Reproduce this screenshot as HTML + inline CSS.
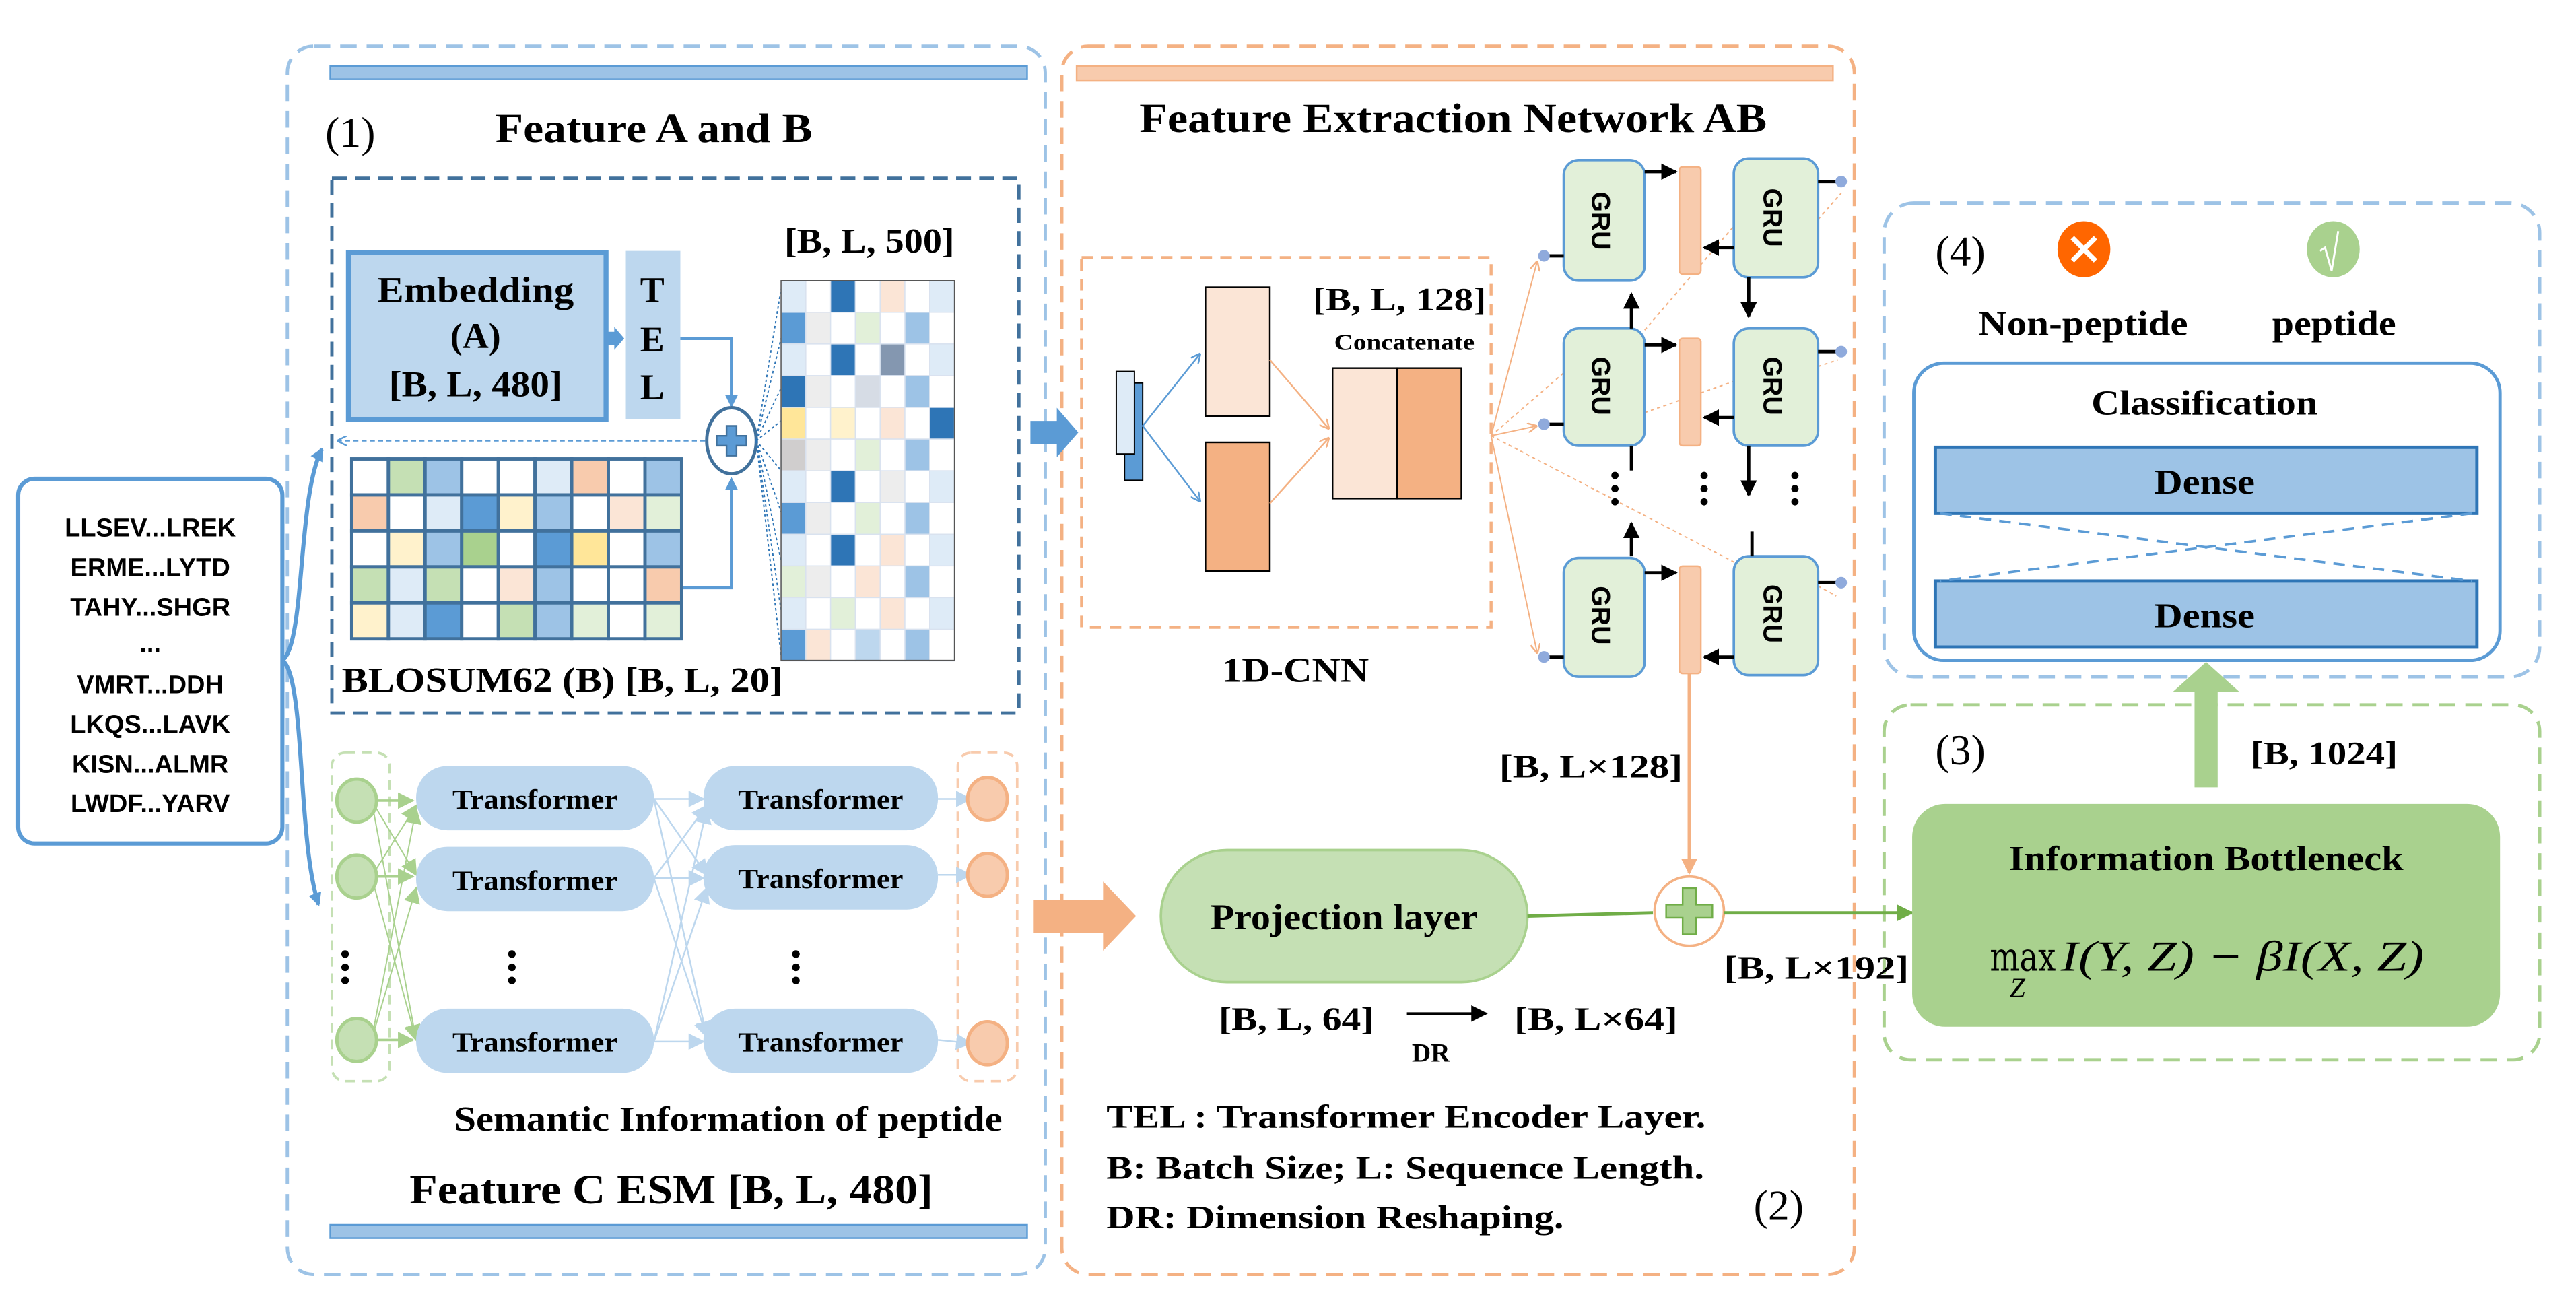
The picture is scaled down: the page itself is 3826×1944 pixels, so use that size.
<!DOCTYPE html>
<html><head><meta charset="utf-8"><style>
html,body{margin:0;padding:0;background:#fff;}
svg{display:block;}
text{font-family:"Liberation Serif",serif;font-weight:bold;fill:#000;}
.s{font-family:"Liberation Sans",sans-serif;}
.n{font-weight:normal;}
</style></head><body>
<svg width="3826" height="1944" viewBox="0 0 1560 793" preserveAspectRatio="none" xmlns="http://www.w3.org/2000/svg">
<defs>
<marker id="ab" markerWidth="8" markerHeight="8" refX="7" refY="4" orient="auto" markerUnits="userSpaceOnUse"><path d="M0,0 L8,4 L0,8z" fill="#5b9bd5"/></marker>
<marker id="abs" markerWidth="6" markerHeight="6" refX="6" refY="3" orient="auto" markerUnits="userSpaceOnUse"><path d="M0,0 L6,3 L0,6" fill="none" stroke="#5b9bd5" stroke-width="1"/></marker>
<marker id="ao" markerWidth="6" markerHeight="6" refX="6" refY="3" orient="auto" markerUnits="userSpaceOnUse"><path d="M0,0 L6,3 L0,6" fill="none" stroke="#f4b183" stroke-width="1"/></marker>
<marker id="aO" markerWidth="10" markerHeight="10" refX="9" refY="5" orient="auto" markerUnits="userSpaceOnUse"><path d="M0,0 L10,5 L0,10z" fill="#f4b183"/></marker>
<marker id="ak" markerWidth="10" markerHeight="10" refX="9" refY="5" orient="auto" markerUnits="userSpaceOnUse"><path d="M0,0 L10,5 L0,10z" fill="#000"/></marker>
<marker id="ag" markerWidth="10" markerHeight="10" refX="9" refY="5" orient="auto" markerUnits="userSpaceOnUse"><path d="M0,0 L10,5 L0,10z" fill="#70ad47"/></marker>
<marker id="agl" markerWidth="10" markerHeight="10" refX="9" refY="5" orient="auto" markerUnits="userSpaceOnUse"><path d="M0,0 L10,5 L0,10z" fill="#a9d18e"/></marker>
<marker id="abl" markerWidth="10" markerHeight="10" refX="9" refY="5" orient="auto" markerUnits="userSpaceOnUse"><path d="M0,0 L10,5 L0,10z" fill="#bdd7ee"/></marker>
<marker id="aor" markerWidth="10" markerHeight="10" refX="9" refY="5" orient="auto" markerUnits="userSpaceOnUse"><path d="M0,0 L10,5 L0,10z" fill="#f8cbad"/></marker>
</defs>

<!-- outer boxes -->
<rect x="174" y="28" width="459" height="744" rx="16" fill="none" stroke="#9dc3e6" stroke-width="2" stroke-dasharray="10,6"/>
<rect x="200" y="40" width="422" height="8" fill="#9dc3e6" stroke="#5b9bd5" stroke-width="1"/>
<rect x="200" y="742" width="422" height="8" fill="#9dc3e6" stroke="#5b9bd5" stroke-width="1"/>
<rect x="643" y="28" width="480" height="744" rx="16" fill="none" stroke="#f4b183" stroke-width="2" stroke-dasharray="10,6"/>
<rect x="652" y="40" width="458" height="9" fill="#f8cbad" stroke="#f4b183" stroke-width="1"/>
<rect x="1141" y="123" width="397" height="287" rx="18" fill="none" stroke="#9dc3e6" stroke-width="2" stroke-dasharray="10,6"/>
<rect x="1141" y="427" width="397" height="215" rx="16" fill="none" stroke="#a9d18e" stroke-width="2" stroke-dasharray="10,6"/>

<!-- input -->
<rect x="11" y="290" width="160" height="221" rx="10" fill="#fff" stroke="#5b9bd5" stroke-width="2.5"/>
<g class="s" font-size="15.5" text-anchor="middle">
<text class="s" x="91" y="325">LLSEV...LREK</text>
<text class="s" x="91" y="349">ERME...LYTD</text>
<text class="s" x="91" y="373">TAHY...SHGR</text>
<text class="s" x="91" y="395">...</text>
<text class="s" x="91" y="420">VMRT...DDH</text>
<text class="s" x="91" y="444">LKQS...LAVK</text>
<text class="s" x="91" y="468">KISN...ALMR</text>
<text class="s" x="91" y="492">LWDF...YARV</text>
</g>
<path d="M171,400 C185,390 180,300 195,272" fill="none" stroke="#5b9bd5" stroke-width="2.5" marker-end="url(#ab)"/>
<path d="M171,400 C185,410 180,510 193,548" fill="none" stroke="#5b9bd5" stroke-width="2.5" marker-end="url(#ab)"/>

<!-- Feature A and B -->
<text class="n" x="197" y="89" font-size="26">(1)</text>
<text x="300" y="86" font-size="25" textLength="192" lengthAdjust="spacingAndGlyphs">Feature A and B</text>
<rect x="201" y="108" width="416" height="324" fill="none" stroke="#41719c" stroke-width="2" stroke-dasharray="9,5"/>
<rect x="211" y="153" width="156" height="101" fill="#bdd7ee" stroke="#5b9bd5" stroke-width="3"/>
<text x="288" y="183" font-size="22" text-anchor="middle" textLength="119" lengthAdjust="spacingAndGlyphs">Embedding</text>
<text x="288" y="211" font-size="22" text-anchor="middle">(A)</text>
<text x="288" y="240" font-size="22" text-anchor="middle" textLength="105" lengthAdjust="spacingAndGlyphs">[B, L, 480]</text>
<rect x="379" y="152" width="33" height="102" fill="#bdd7ee"/>
<text x="395" y="183" font-size="22" text-anchor="middle">T</text>
<text x="395" y="213" font-size="22" text-anchor="middle">E</text>
<text x="395" y="242" font-size="22" text-anchor="middle">L</text>
<path d="M367,201 h5 v-3 l6,7 l-6,7 v-3 h-5z" fill="#5b9bd5"/>
<path d="M412,205 H443 V246" fill="none" stroke="#5b9bd5" stroke-width="2" marker-end="url(#ab)"/>
<path d="M413,356 H443 V290" fill="none" stroke="#5b9bd5" stroke-width="2" marker-end="url(#ab)"/>
<line x1="427" y1="267" x2="204" y2="267" stroke="#5b9bd5" stroke-width="1" stroke-dasharray="3,2" marker-end="url(#abs)"/>
<ellipse cx="443" cy="267" rx="15" ry="20" fill="#fff" stroke="#41719c" stroke-width="2"/>
<path d="M440,258 h6 v6 h6 v6 h-6 v6 h-6 v-6 h-6 v-6 h6z" fill="#5b9bd5" stroke="#41719c" stroke-width="1"/>
<!-- dotted fan -->
<g stroke="#2e75b6" stroke-width="0.8" stroke-dasharray="1.5,1.5">
<line x1="458" y1="267" x2="473" y2="175"/><line x1="458" y1="267" x2="473" y2="205"/><line x1="458" y1="267" x2="473" y2="235"/><line x1="458" y1="267" x2="473" y2="255"/><line x1="458" y1="267" x2="473" y2="285"/><line x1="458" y1="267" x2="473" y2="310"/><line x1="458" y1="267" x2="473" y2="340"/><line x1="458" y1="267" x2="473" y2="370"/><line x1="458" y1="267" x2="473" y2="397"/>
</g>
<text x="475" y="153" font-size="21" textLength="103" lengthAdjust="spacingAndGlyphs">[B, L, 500]</text>
<!-- matrix 7x12 -->
<g stroke="#d9e2ef" stroke-width="0.6">
<rect x="473" y="170" width="15" height="19.2" fill="#deebf7"/><rect x="488" y="170" width="15" height="19.2" fill="#fff"/><rect x="503" y="170" width="15" height="19.2" fill="#2e75b6"/><rect x="518" y="170" width="15" height="19.2" fill="#fff"/><rect x="533" y="170" width="15" height="19.2" fill="#fbe5d6"/><rect x="548" y="170" width="15" height="19.2" fill="#fff"/><rect x="563" y="170" width="15" height="19.2" fill="#deebf7"/>
<rect x="473" y="189.2" width="15" height="19.2" fill="#5b9bd5"/><rect x="488" y="189.2" width="15" height="19.2" fill="#ededed"/><rect x="503" y="189.2" width="15" height="19.2" fill="#fff"/><rect x="518" y="189.2" width="15" height="19.2" fill="#e2f0d9"/><rect x="533" y="189.2" width="15" height="19.2" fill="#fff"/><rect x="548" y="189.2" width="15" height="19.2" fill="#9dc3e6"/><rect x="563" y="189.2" width="15" height="19.2" fill="#fff"/>
<rect x="473" y="208.4" width="15" height="19.2" fill="#deebf7"/><rect x="488" y="208.4" width="15" height="19.2" fill="#fff"/><rect x="503" y="208.4" width="15" height="19.2" fill="#2e75b6"/><rect x="518" y="208.4" width="15" height="19.2" fill="#fff"/><rect x="533" y="208.4" width="15" height="19.2" fill="#8497b0"/><rect x="548" y="208.4" width="15" height="19.2" fill="#fff"/><rect x="563" y="208.4" width="15" height="19.2" fill="#deebf7"/>
<rect x="473" y="227.6" width="15" height="19.2" fill="#2e75b6"/><rect x="488" y="227.6" width="15" height="19.2" fill="#ededed"/><rect x="503" y="227.6" width="15" height="19.2" fill="#fff"/><rect x="518" y="227.6" width="15" height="19.2" fill="#d6dce5"/><rect x="533" y="227.6" width="15" height="19.2" fill="#fff"/><rect x="548" y="227.6" width="15" height="19.2" fill="#9dc3e6"/><rect x="563" y="227.6" width="15" height="19.2" fill="#fff"/>
<rect x="473" y="246.8" width="15" height="19.2" fill="#ffe699"/><rect x="488" y="246.8" width="15" height="19.2" fill="#fff"/><rect x="503" y="246.8" width="15" height="19.2" fill="#fff2cc"/><rect x="518" y="246.8" width="15" height="19.2" fill="#fff"/><rect x="533" y="246.8" width="15" height="19.2" fill="#fbe5d6"/><rect x="548" y="246.8" width="15" height="19.2" fill="#fff"/><rect x="563" y="246.8" width="15" height="19.2" fill="#2e75b6"/>
<rect x="473" y="266" width="15" height="19.2" fill="#d0cece"/><rect x="488" y="266" width="15" height="19.2" fill="#ededed"/><rect x="503" y="266" width="15" height="19.2" fill="#fff"/><rect x="518" y="266" width="15" height="19.2" fill="#e2f0d9"/><rect x="533" y="266" width="15" height="19.2" fill="#fff"/><rect x="548" y="266" width="15" height="19.2" fill="#9dc3e6"/><rect x="563" y="266" width="15" height="19.2" fill="#fff"/>
<rect x="473" y="285.2" width="15" height="19.2" fill="#deebf7"/><rect x="488" y="285.2" width="15" height="19.2" fill="#fff"/><rect x="503" y="285.2" width="15" height="19.2" fill="#2e75b6"/><rect x="518" y="285.2" width="15" height="19.2" fill="#fff"/><rect x="533" y="285.2" width="15" height="19.2" fill="#ededed"/><rect x="548" y="285.2" width="15" height="19.2" fill="#fff"/><rect x="563" y="285.2" width="15" height="19.2" fill="#deebf7"/>
<rect x="473" y="304.4" width="15" height="19.2" fill="#5b9bd5"/><rect x="488" y="304.4" width="15" height="19.2" fill="#ededed"/><rect x="503" y="304.4" width="15" height="19.2" fill="#fff"/><rect x="518" y="304.4" width="15" height="19.2" fill="#e2f0d9"/><rect x="533" y="304.4" width="15" height="19.2" fill="#fff"/><rect x="548" y="304.4" width="15" height="19.2" fill="#9dc3e6"/><rect x="563" y="304.4" width="15" height="19.2" fill="#fff"/>
<rect x="473" y="323.6" width="15" height="19.2" fill="#deebf7"/><rect x="488" y="323.6" width="15" height="19.2" fill="#fff"/><rect x="503" y="323.6" width="15" height="19.2" fill="#2e75b6"/><rect x="518" y="323.6" width="15" height="19.2" fill="#fff"/><rect x="533" y="323.6" width="15" height="19.2" fill="#fbe5d6"/><rect x="548" y="323.6" width="15" height="19.2" fill="#fff"/><rect x="563" y="323.6" width="15" height="19.2" fill="#deebf7"/>
<rect x="473" y="342.8" width="15" height="19.2" fill="#e2f0d9"/><rect x="488" y="342.8" width="15" height="19.2" fill="#ededed"/><rect x="503" y="342.8" width="15" height="19.2" fill="#fff"/><rect x="518" y="342.8" width="15" height="19.2" fill="#fbe5d6"/><rect x="533" y="342.8" width="15" height="19.2" fill="#fff"/><rect x="548" y="342.8" width="15" height="19.2" fill="#9dc3e6"/><rect x="563" y="342.8" width="15" height="19.2" fill="#fff"/>
<rect x="473" y="362" width="15" height="19.2" fill="#deebf7"/><rect x="488" y="362" width="15" height="19.2" fill="#fff"/><rect x="503" y="362" width="15" height="19.2" fill="#e2f0d9"/><rect x="518" y="362" width="15" height="19.2" fill="#fff"/><rect x="533" y="362" width="15" height="19.2" fill="#fbe5d6"/><rect x="548" y="362" width="15" height="19.2" fill="#fff"/><rect x="563" y="362" width="15" height="19.2" fill="#deebf7"/>
<rect x="473" y="381.2" width="15" height="19.2" fill="#5b9bd5"/><rect x="488" y="381.2" width="15" height="19.2" fill="#fbe5d6"/><rect x="503" y="381.2" width="15" height="19.2" fill="#fff"/><rect x="518" y="381.2" width="15" height="19.2" fill="#bdd7ee"/><rect x="533" y="381.2" width="15" height="19.2" fill="#fff"/><rect x="548" y="381.2" width="15" height="19.2" fill="#9dc3e6"/><rect x="563" y="381.2" width="15" height="19.2" fill="#fff"/>
</g>
<rect x="473" y="170" width="105" height="230" fill="none" stroke="#555" stroke-width="0.6"/>
<!-- BLOSUM grid 9x5 -->
<g stroke="#41719c" stroke-width="2">
<rect x="213" y="278" width="22.2" height="21.8" fill="#fff"/><rect x="235.2" y="278" width="22.2" height="21.8" fill="#c5e0b4"/><rect x="257.4" y="278" width="22.2" height="21.8" fill="#9dc3e6"/><rect x="279.6" y="278" width="22.2" height="21.8" fill="#fff"/><rect x="301.8" y="278" width="22.2" height="21.8" fill="#fff"/><rect x="324" y="278" width="22.2" height="21.8" fill="#deebf7"/><rect x="346.2" y="278" width="22.2" height="21.8" fill="#f8cbad"/><rect x="368.4" y="278" width="22.2" height="21.8" fill="#fff"/><rect x="390.6" y="278" width="22.2" height="21.8" fill="#9dc3e6"/>
<rect x="213" y="299.8" width="22.2" height="21.8" fill="#f8cbad"/><rect x="235.2" y="299.8" width="22.2" height="21.8" fill="#fff"/><rect x="257.4" y="299.8" width="22.2" height="21.8" fill="#deebf7"/><rect x="279.6" y="299.8" width="22.2" height="21.8" fill="#5b9bd5"/><rect x="301.8" y="299.8" width="22.2" height="21.8" fill="#fff2cc"/><rect x="324" y="299.8" width="22.2" height="21.8" fill="#9dc3e6"/><rect x="346.2" y="299.8" width="22.2" height="21.8" fill="#fff"/><rect x="368.4" y="299.8" width="22.2" height="21.8" fill="#fbe5d6"/><rect x="390.6" y="299.8" width="22.2" height="21.8" fill="#e2f0d9"/>
<rect x="213" y="321.6" width="22.2" height="21.8" fill="#fff"/><rect x="235.2" y="321.6" width="22.2" height="21.8" fill="#fff2cc"/><rect x="257.4" y="321.6" width="22.2" height="21.8" fill="#9dc3e6"/><rect x="279.6" y="321.6" width="22.2" height="21.8" fill="#a9d18e"/><rect x="301.8" y="321.6" width="22.2" height="21.8" fill="#fff"/><rect x="324" y="321.6" width="22.2" height="21.8" fill="#5b9bd5"/><rect x="346.2" y="321.6" width="22.2" height="21.8" fill="#ffe699"/><rect x="368.4" y="321.6" width="22.2" height="21.8" fill="#fff"/><rect x="390.6" y="321.6" width="22.2" height="21.8" fill="#9dc3e6"/>
<rect x="213" y="343.4" width="22.2" height="21.8" fill="#c5e0b4"/><rect x="235.2" y="343.4" width="22.2" height="21.8" fill="#deebf7"/><rect x="257.4" y="343.4" width="22.2" height="21.8" fill="#c5e0b4"/><rect x="279.6" y="343.4" width="22.2" height="21.8" fill="#fff"/><rect x="301.8" y="343.4" width="22.2" height="21.8" fill="#fbe5d6"/><rect x="324" y="343.4" width="22.2" height="21.8" fill="#9dc3e6"/><rect x="346.2" y="343.4" width="22.2" height="21.8" fill="#fff"/><rect x="368.4" y="343.4" width="22.2" height="21.8" fill="#fff"/><rect x="390.6" y="343.4" width="22.2" height="21.8" fill="#f8cbad"/>
<rect x="213" y="365.2" width="22.2" height="21.8" fill="#fff2cc"/><rect x="235.2" y="365.2" width="22.2" height="21.8" fill="#deebf7"/><rect x="257.4" y="365.2" width="22.2" height="21.8" fill="#5b9bd5"/><rect x="279.6" y="365.2" width="22.2" height="21.8" fill="#fff"/><rect x="301.8" y="365.2" width="22.2" height="21.8" fill="#c5e0b4"/><rect x="324" y="365.2" width="22.2" height="21.8" fill="#9dc3e6"/><rect x="346.2" y="365.2" width="22.2" height="21.8" fill="#e2f0d9"/><rect x="368.4" y="365.2" width="22.2" height="21.8" fill="#fff"/><rect x="390.6" y="365.2" width="22.2" height="21.8" fill="#e2f0d9"/>
</g>
<text x="207" y="419" font-size="21" textLength="267" lengthAdjust="spacingAndGlyphs">BLOSUM62 (B) [B, L, 20]</text>

<!-- Transformers -->
<rect x="201" y="456" width="35" height="199" rx="8" fill="none" stroke="#c5e0b4" stroke-width="1.5" stroke-dasharray="6,4"/>
<rect x="580" y="456" width="36" height="199" rx="8" fill="none" stroke="#f8cbad" stroke-width="1.5" stroke-dasharray="6,4"/>
<g stroke="#a9d18e" stroke-width="0.8" fill="none">
<line x1="225" y1="485" x2="252" y2="530" marker-end="url(#agl)"/><line x1="225" y1="485" x2="252" y2="630" marker-end="url(#agl)"/>
<line x1="225" y1="531" x2="252" y2="488" marker-end="url(#agl)"/><line x1="225" y1="531" x2="252" y2="630" marker-end="url(#agl)"/>
<line x1="225" y1="630" x2="252" y2="490" marker-end="url(#agl)"/><line x1="225" y1="630" x2="252" y2="538" marker-end="url(#agl)"/>
</g>
<g stroke="#a9d18e" stroke-width="1.5">
<line x1="225" y1="485" x2="250" y2="485" marker-end="url(#agl)"/><line x1="225" y1="531" x2="250" y2="531" marker-end="url(#agl)"/><line x1="225" y1="630" x2="250" y2="630" marker-end="url(#agl)"/>
</g>
<g stroke="#bdd7ee" stroke-width="1" fill="none">
<line x1="396" y1="484" x2="426" y2="484" marker-end="url(#abl)"/><line x1="396" y1="532" x2="426" y2="532" marker-end="url(#abl)"/><line x1="396" y1="631" x2="426" y2="631" marker-end="url(#abl)"/>
<line x1="396" y1="484" x2="428" y2="530" marker-end="url(#abl)"/><line x1="396" y1="484" x2="428" y2="628" marker-end="url(#abl)"/>
<line x1="396" y1="532" x2="428" y2="488" marker-end="url(#abl)"/><line x1="396" y1="532" x2="428" y2="628" marker-end="url(#abl)"/>
<line x1="396" y1="631" x2="428" y2="490" marker-end="url(#abl)"/><line x1="396" y1="631" x2="428" y2="538" marker-end="url(#abl)"/>
<line x1="568" y1="484" x2="588" y2="484" marker-end="url(#abl)"/><line x1="568" y1="530" x2="588" y2="530" marker-end="url(#abl)"/><line x1="568" y1="630" x2="588" y2="632" marker-end="url(#abl)"/>
</g>
<g fill="#c5e0b4" stroke="#a9d18e" stroke-width="2">
<ellipse cx="216" cy="485" rx="12" ry="13"/><ellipse cx="216" cy="531" rx="12" ry="13"/><ellipse cx="216" cy="630" rx="12" ry="13"/>
</g>
<g fill="#f8cbad" stroke="#f4b183" stroke-width="2">
<ellipse cx="598" cy="484" rx="12" ry="13"/><ellipse cx="598" cy="530" rx="12" ry="13"/><ellipse cx="598" cy="632" rx="12" ry="13"/>
</g>
<g fill="#bdd7ee">
<rect x="252" y="464" width="144" height="39" rx="19"/><rect x="252" y="513" width="144" height="39" rx="19"/><rect x="252" y="611" width="144" height="39" rx="19"/>
<rect x="426" y="464" width="142" height="39" rx="19"/><rect x="426" y="512" width="142" height="39" rx="19"/><rect x="426" y="611" width="142" height="39" rx="19"/>
</g>
<g font-size="17" text-anchor="middle">
<text x="324" y="490" textLength="100" lengthAdjust="spacingAndGlyphs">Transformer</text>
<text x="324" y="539" textLength="100" lengthAdjust="spacingAndGlyphs">Transformer</text>
<text x="324" y="637" textLength="100" lengthAdjust="spacingAndGlyphs">Transformer</text>
<text x="497" y="490" textLength="100" lengthAdjust="spacingAndGlyphs">Transformer</text>
<text x="497" y="538" textLength="100" lengthAdjust="spacingAndGlyphs">Transformer</text>
<text x="497" y="637" textLength="100" lengthAdjust="spacingAndGlyphs">Transformer</text>
</g>
<g fill="#000"><circle cx="209" cy="578" r="2.3"/><circle cx="209" cy="586" r="2.3"/><circle cx="209" cy="594" r="2.3"/>
<circle cx="310" cy="578" r="2.3"/><circle cx="310" cy="586" r="2.3"/><circle cx="310" cy="594" r="2.3"/>
<circle cx="482" cy="578" r="2.3"/><circle cx="482" cy="586" r="2.3"/><circle cx="482" cy="594" r="2.3"/></g>
<text x="275" y="685" font-size="21" textLength="332" lengthAdjust="spacingAndGlyphs">Semantic Information of peptide</text>
<text x="248" y="729" font-size="25" textLength="317" lengthAdjust="spacingAndGlyphs">Feature C ESM [B, L, 480]</text>

<!-- block arrows -->
<path d="M624,255 h16 v-8 l13,15 l-13,15 v-8 h-16z" fill="#5b9bd5"/>
<path d="M626,545 h42 v-11 l20,21 l-20,21 v-11 h-42z" fill="#f4b183"/>

<!-- Feature Extraction -->
<text x="690" y="80" font-size="25" textLength="380" lengthAdjust="spacingAndGlyphs">Feature Extraction Network AB</text>
<rect x="655" y="156" width="248" height="224" fill="none" stroke="#f4b183" stroke-width="1.8" stroke-dasharray="7,5"/>
<rect x="681" y="232" width="11" height="59" fill="#5b9bd5" stroke="#000" stroke-width="0.8"/>
<rect x="676" y="225" width="11" height="50" fill="#deebf7" stroke="#000" stroke-width="0.8"/>
<line x1="692" y1="258" x2="727" y2="214" stroke="#5b9bd5" stroke-width="1" marker-end="url(#abs)"/>
<line x1="692" y1="258" x2="727" y2="304" stroke="#5b9bd5" stroke-width="1" marker-end="url(#abs)"/>
<rect x="730" y="174" width="39" height="78" fill="#fbe5d6" stroke="#000" stroke-width="1"/>
<rect x="730" y="268" width="39" height="78" fill="#f4b183" stroke="#000" stroke-width="1"/>
<line x1="769" y1="218" x2="805" y2="260" stroke="#f4b183" stroke-width="1" marker-end="url(#ao)"/>
<line x1="769" y1="305" x2="805" y2="265" stroke="#f4b183" stroke-width="1" marker-end="url(#ao)"/>
<rect x="807" y="223" width="39" height="79" fill="#fbe5d6" stroke="#000" stroke-width="1"/>
<rect x="846" y="223" width="39" height="79" fill="#f4b183" stroke="#000" stroke-width="1"/>
<text x="795" y="188" font-size="20" textLength="105" lengthAdjust="spacingAndGlyphs">[B, L, 128]</text>
<text x="808" y="212" font-size="14" textLength="85" lengthAdjust="spacingAndGlyphs">Concatenate</text>
<text x="740" y="413" font-size="21" textLength="89" lengthAdjust="spacingAndGlyphs">1D-CNN</text>
<!-- fan to GRUs -->
<g stroke="#f4b183" stroke-width="0.8" fill="none">
<line x1="903" y1="264" x2="931" y2="158" marker-end="url(#ao)"/>
<line x1="903" y1="264" x2="931" y2="258" marker-end="url(#ao)"/>
<line x1="903" y1="264" x2="931" y2="396" marker-end="url(#ao)"/>
<g stroke-dasharray="2,2"><line x1="903" y1="264" x2="948" y2="225"/><line x1="903" y1="264" x2="1053" y2="342"/><line x1="996" y1="200" x2="1050" y2="137"/><line x1="996" y1="250" x2="1050" y2="231"/>
<line x1="1101" y1="133" x2="1115" y2="117"/><line x1="1101" y1="222" x2="1113" y2="218"/><line x1="1101" y1="355" x2="1112" y2="361"/></g>
</g>
<!-- GRU -->
<g fill="#e2f0d9" stroke="#5b9bd5" stroke-width="1.5">
<rect x="947" y="97" width="49" height="73" rx="9"/><rect x="947" y="199" width="49" height="71" rx="9"/><rect x="947" y="338" width="49" height="72" rx="9"/>
<rect x="1050" y="96" width="51" height="72" rx="9"/><rect x="1050" y="199" width="51" height="71" rx="9"/><rect x="1050" y="337" width="51" height="72" rx="9"/>
</g>
<g fill="#f8cbad" stroke="#f4b183" stroke-width="1">
<rect x="1017" y="101" width="13" height="65" rx="2"/><rect x="1017" y="205" width="13" height="65" rx="2"/><rect x="1017" y="343" width="13" height="65" rx="2"/>
</g>
<g class="s" font-size="16">
<text class="s" transform="translate(964,116) rotate(90)">GRU</text>
<text class="s" transform="translate(964,216) rotate(90)">GRU</text>
<text class="s" transform="translate(964,355) rotate(90)">GRU</text>
<text class="s" transform="translate(1068,114) rotate(90)">GRU</text>
<text class="s" transform="translate(1068,216) rotate(90)">GRU</text>
<text class="s" transform="translate(1068,354) rotate(90)">GRU</text>
</g>
<g stroke="#000" stroke-width="2" fill="none">
<line x1="996" y1="104" x2="1015" y2="104" marker-end="url(#ak)"/><line x1="996" y1="209" x2="1015" y2="209" marker-end="url(#ak)"/><line x1="996" y1="347" x2="1015" y2="347" marker-end="url(#ak)"/>
<line x1="1050" y1="150" x2="1032" y2="150" marker-end="url(#ak)"/><line x1="1050" y1="253" x2="1032" y2="253" marker-end="url(#ak)"/><line x1="1050" y1="398" x2="1032" y2="398" marker-end="url(#ak)"/>
<line x1="988" y1="199" x2="988" y2="178" marker-end="url(#ak)"/><line x1="988" y1="337" x2="988" y2="317" marker-end="url(#ak)"/><line x1="988" y1="270" x2="988" y2="285"/>
<line x1="1059" y1="168" x2="1059" y2="192" marker-end="url(#ak)"/><line x1="1059" y1="270" x2="1059" y2="300" marker-end="url(#ak)"/><line x1="1061" y1="322" x2="1061" y2="337"/>
<line x1="938" y1="155" x2="947" y2="155"/><line x1="938" y1="257" x2="947" y2="257"/><line x1="938" y1="398" x2="947" y2="398"/>
<line x1="1101" y1="110" x2="1112" y2="110"/><line x1="1101" y1="213" x2="1112" y2="213"/><line x1="1101" y1="353" x2="1112" y2="353"/>
</g>
<g fill="#8faadc"><circle cx="935" cy="155" r="3.5"/><circle cx="935" cy="257" r="3.5"/><circle cx="935" cy="398" r="3.5"/>
<circle cx="1115" cy="110" r="3.5"/><circle cx="1115" cy="213" r="3.5"/><circle cx="1115" cy="353" r="3.5"/></g>
<g fill="#000"><circle cx="978" cy="288" r="2.2"/><circle cx="978" cy="296" r="2.2"/><circle cx="978" cy="304" r="2.2"/>
<circle cx="1032" cy="288" r="2.2"/><circle cx="1032" cy="296" r="2.2"/><circle cx="1032" cy="304" r="2.2"/>
<circle cx="1087" cy="288" r="2.2"/><circle cx="1087" cy="296" r="2.2"/><circle cx="1087" cy="304" r="2.2"/></g>
<line x1="1023" y1="408" x2="1023" y2="529" stroke="#f4b183" stroke-width="2" marker-end="url(#aO)"/>
<text x="908" y="471" font-size="20" textLength="111" lengthAdjust="spacingAndGlyphs">[B, L×128]</text>

<rect x="703" y="515" width="222" height="80" rx="40" fill="#c5e0b4" stroke="#a9d18e" stroke-width="1.5"/>
<text x="814" y="563" font-size="22" text-anchor="middle" textLength="162" lengthAdjust="spacingAndGlyphs">Projection layer</text>
<line x1="925" y1="555" x2="1001" y2="553" stroke="#70ad47" stroke-width="2"/>
<circle cx="1023" cy="552" r="21" fill="#fff" stroke="#f4b183" stroke-width="1.5"/>
<path d="M1019,538 h8 v10 h10 v8 h-10 v10 h-8 v-10 h-10 v-8 h10z" fill="#a9d18e" stroke="#70ad47" stroke-width="1"/>
<line x1="1044" y1="553" x2="1158" y2="553" stroke="#70ad47" stroke-width="2" marker-end="url(#ag)"/>
<text x="738" y="624" font-size="20" textLength="94" lengthAdjust="spacingAndGlyphs">[B, L, 64]</text>
<line x1="852" y1="614" x2="900" y2="614" stroke="#000" stroke-width="1.5" marker-end="url(#ak)"/>
<text x="855" y="643" font-size="16">DR</text>
<text x="917" y="624" font-size="20" textLength="99" lengthAdjust="spacingAndGlyphs">[B, L×64]</text>
<text x="1044" y="593" font-size="20" textLength="112" lengthAdjust="spacingAndGlyphs">[B, L×192]</text>
<text x="670" y="683" font-size="20" textLength="363" lengthAdjust="spacingAndGlyphs">TEL : Transformer Encoder  Layer.</text>
<text x="670" y="714" font-size="20" textLength="362" lengthAdjust="spacingAndGlyphs">B: Batch Size; L: Sequence Length.</text>
<text x="670" y="744" font-size="20" textLength="277" lengthAdjust="spacingAndGlyphs">DR: Dimension Reshaping.</text>
<text class="n" x="1062" y="739" font-size="26">(2)</text>

<!-- (4) -->
<text class="n" x="1172" y="161" font-size="26">(4)</text>
<ellipse cx="1262" cy="151" rx="16" ry="17" fill="#ff6600"/>
<path d="M1255,144 L1269,158 M1269,144 L1255,158" stroke="#fff" stroke-width="3"/>
<ellipse cx="1413" cy="151" rx="16" ry="17" fill="#a9d18e"/>
<path d="M1405,152 l3,-2 l4,14 l4,-24" stroke="#fff" stroke-width="1.2" fill="none"/>
<text x="1198" y="203" font-size="21" textLength="127" lengthAdjust="spacingAndGlyphs">Non-peptide</text>
<text x="1376" y="203" font-size="21" textLength="75" lengthAdjust="spacingAndGlyphs">peptide</text>
<rect x="1159" y="220" width="355" height="180" rx="18" fill="#fff" stroke="#5b9bd5" stroke-width="2"/>
<text x="1335" y="251" font-size="21" text-anchor="middle" textLength="137" lengthAdjust="spacingAndGlyphs">Classification</text>
<rect x="1172" y="271" width="328" height="40" fill="#9dc3e6" stroke="#2e75b6" stroke-width="2"/>
<rect x="1172" y="352" width="328" height="40" fill="#9dc3e6" stroke="#2e75b6" stroke-width="2"/>
<g stroke="#5b9bd5" stroke-width="1.5" stroke-dasharray="7,5"><line x1="1175" y1="311" x2="1497" y2="352"/><line x1="1497" y1="311" x2="1175" y2="352"/></g>
<text x="1335" y="299" font-size="21" text-anchor="middle" textLength="61" lengthAdjust="spacingAndGlyphs">Dense</text>
<text x="1335" y="380" font-size="21" text-anchor="middle" textLength="61" lengthAdjust="spacingAndGlyphs">Dense</text>

<!-- (3) -->
<text class="n" x="1172" y="463" font-size="26">(3)</text>
<path d="M1329,477 v-58 h-13 l20,-18 l20,18 h-13 v58z" fill="#a9d18e"/>
<text x="1363" y="463" font-size="20" textLength="89" lengthAdjust="spacingAndGlyphs">[B, 1024]</text>
<rect x="1158" y="487" width="356" height="135" rx="20" fill="#a9d18e"/>
<text x="1336" y="527" font-size="21" text-anchor="middle" textLength="239" lengthAdjust="spacingAndGlyphs">Information Bottleneck</text>
<text class="n" x="1205" y="588" font-size="24" style="font-family:'DejaVu Serif',serif;" textLength="40" lengthAdjust="spacingAndGlyphs">max</text>
<text class="n" x="1217" y="604" font-size="17" font-style="italic" style="font-family:'Liberation Serif',serif;">Z</text>
<text class="n" x="1248" y="588" font-size="26" font-style="italic" textLength="220" lengthAdjust="spacingAndGlyphs">I(Y, Z) − βI(X, Z)</text>
</svg>
</body></html>
